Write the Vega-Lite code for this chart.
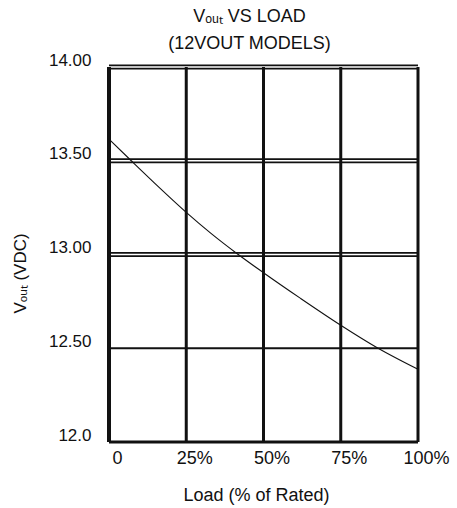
{
  "$schema": "https://vega.github.io/schema/vega-lite/v6.json",
  "autosize": "none",
  "padding": {"left": 109, "top": 67, "right": 39, "bottom": 66},
  "width": 309,
  "height": 375,
  "background": "white",
  "config": {
    "font": "Liberation Sans",
    "view": {"stroke": null}
  },
  "title": {
    "text": ["Vₒᵤₜ  VS LOAD", "(12VOUT MODELS)"],
    "font": "Liberation Sans",
    "fontSize": 18,
    "fontWeight": "normal",
    "color": "#111",
    "lineHeight": 27,
    "anchor": "middle",
    "dx": -14,
    "offset": -2
  },
  "datasets": {
    "curve": [
      {"load": 0, "vout": 13.615},
      {"load": 7.2, "vout": 13.5},
      {"load": 15, "vout": 13.377},
      {"load": 25, "vout": 13.225},
      {"load": 33, "vout": 13.113},
      {"load": 41.6, "vout": 13.003},
      {"load": 50, "vout": 12.903},
      {"load": 62, "vout": 12.766},
      {"load": 75, "vout": 12.623},
      {"load": 86.8, "vout": 12.503},
      {"load": 100, "vout": 12.388}
    ],
    "vgrid": [{"load": 0}, {"load": 25}, {"load": 50}, {"load": 75}, {"load": 100}],
    "hdouble": [{"vout": 14}, {"vout": 13.5}, {"vout": 13}],
    "hsingle": [{"vout": 12.5}],
    "hbottom": [{"vout": 12}],
    "vleft": [{"load": 0}]
  },
  "layer": [
    {
      "data": {"name": "hdouble"},
      "mark": {"type": "rule", "color": "#111", "strokeWidth": 5},
      "encoding": {
        "y": {
          "field": "vout", "type": "quantitative",
          "scale": {"domain": [12, 14], "nice": false},
          "axis": {
            "title": "Vₒᵤₜ (VDC)",
            "values": [12, 12.5, 13, 13.5, 14],
            "labelExpr": "datum.value == 12 ? '12.0' : format(datum.value, '.2f')",
            "grid": false, "ticks": false, "domain": false,
            "labelFont": "Liberation Sans", "labelFontSize": 17, "labelColor": "#111",
            "labelPadding": 18, "labelOffset": -7,
            "titleFont": "Liberation Sans", "titleFontSize": 17, "titleFontWeight": "normal", "titleColor": "#111",
            "titleAngle": 270, "titleAlign": "center", "titleBaseline": "middle",
            "titleX": -89, "titleY": 206
          }
        }
      }
    },
    {
      "data": {"name": "hdouble"},
      "mark": {"type": "rule", "color": "white", "strokeWidth": 1.6},
      "encoding": {"y": {"field": "vout", "type": "quantitative"}}
    },
    {
      "data": {"name": "hsingle"},
      "mark": {"type": "rule", "color": "#111", "strokeWidth": 2},
      "encoding": {"y": {"field": "vout", "type": "quantitative"}}
    },
    {
      "data": {"name": "hbottom"},
      "mark": {"type": "rule", "color": "#111", "strokeWidth": 3},
      "encoding": {"y": {"field": "vout", "type": "quantitative"}}
    },
    {
      "data": {"name": "vgrid"},
      "mark": {"type": "rule", "color": "#111", "strokeWidth": 3},
      "encoding": {
        "x": {
          "field": "load", "type": "quantitative",
          "scale": {"domain": [0, 100], "nice": false},
          "axis": {
            "title": "Load (% of Rated)",
            "values": [0, 25, 50, 75, 100],
            "labelExpr": "datum.value == 0 ? '0' : datum.value + '%'",
            "grid": false, "ticks": false, "domain": false,
            "labelFont": "Liberation Sans", "labelFontSize": 18, "labelColor": "#111",
            "labelPadding": 7, "labelOffset": 8, "labelFlush": false,
            "titleFont": "Liberation Sans", "titleFontSize": 18, "titleFontWeight": "normal", "titleColor": "#111",
            "titleBaseline": "alphabetic", "titleX": 147, "titleY": 58
          }
        }
      }
    },
    {
      "data": {"name": "vleft"},
      "mark": {"type": "rule", "color": "#111", "strokeWidth": 4},
      "encoding": {"x": {"field": "load", "type": "quantitative"}}
    },
    {
      "data": {"name": "curve"},
      "mark": {"type": "line", "color": "#111", "strokeWidth": 1.1, "interpolate": "monotone"},
      "encoding": {
        "x": {"field": "load", "type": "quantitative"},
        "y": {"field": "vout", "type": "quantitative"}
      }
    }
  ]
}
